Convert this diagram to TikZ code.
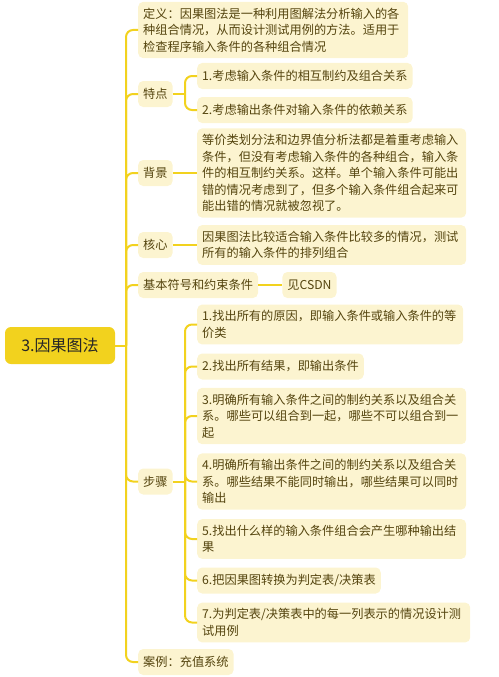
\documentclass[tikz,border=0pt]{standalone}
\usepackage{fontspec}
\setmainfont{Noto Sans CJK SC}
\usetikzlibrary{positioning}
\definecolor{gold}{HTML}{F2D21E}
\definecolor{cream}{HTML}{FCF4D0}
\definecolor{ink}{HTML}{54440E}

\begin{document}
\begin{tikzpicture}[x=1pt,y=-1pt,
 link/.style={gold, line width=2pt, rounded corners=7pt},
 topic/.style={fill=gold, rounded corners=6pt, text=black!85, minimum width=110pt, minimum height=37pt, font=\fontsize{16}{18}\selectfont},
 leaf/.style={fill=cream, rounded corners=5pt, text=ink, inner xsep=5pt, inner ysep=6pt, minimum height=26pt, anchor=west, align=left, font=\fontsize{12.2}{16.5}\selectfont}]
 \useasboundingbox (0,0) rectangle (498,677);
 \node [topic] (root) at (60,345.5) {3.因果图法};
 \coordinate (hub) at (126,345.5);
 \node [leaf, text width=260pt] (def) at (138,30) {定义：因果图法是一种利用图解法分析输入的各\\种组合情况，从而设计测试用例的方法。适用于\\检查程序输入条件的各种组合情况};
 \node [leaf] (feat) at (138,94) {特点};
 \node [leaf] (bg) at (138,173) {背景};
 \node [leaf] (core) at (138,245) {核心};
 \node [leaf] (sym) at (138,285) {基本符号和约束条件};
 \node [leaf] (steps) at (138,481.5) {步骤};
 \node [leaf] (case) at (138,662) {案例：充值系统};
 \coordinate (featj) at (185,94);
 \node [leaf] (feat1) at (197,76) {1.考虑输入条件的相互制约及组合关系};
 \node [leaf] (feat2) at (197,110) {2.考虑输出条件对输入条件的依赖关系};
 \node [leaf, text width=259pt] (bgtxt) at (197,173) {等价类划分法和边界值分析法都是着重考虑输入\\条件，但没有考虑输入条件的各种组合，输入条\\件的相互制约关系。这样。单个输入条件可能出\\错的情况考虑到了，但多个输入条件组合起来可\\能出错的情况就被忽视了。};
 \node [leaf, text width=259pt] (coretxt) at (197,245) {因果图法比较适合输入条件比较多的情况，测试\\所有的输入条件的排列组合};
 \node [leaf, right=24pt of sym] (symtxt) {见CSDN};
 \coordinate (stepj) at (185,481.5);
 \node [leaf, text width=256pt] (s1) at (197,324.5) {1.找出所有的原因，即输入条件或输入条件的等\\价类};
 \node [leaf] (s2) at (197,366.5) {2.找出所有结果，即输出条件};
 \node [leaf, text width=259pt] (s3) at (197,416) {3.明确所有输入条件之间的制约关系以及组合关\\系。哪些可以组合到一起，哪些不可以组合到一\\起};
 \node [leaf, text width=259pt] (s4) at (197,481.5) {4.明确所有输出条件之间的制约关系以及组合关\\系。哪些结果不能同时输出，哪些结果可以同时\\输出};
 \node [leaf, text width=259pt] (s5) at (197,539) {5.找出什么样的输入条件组合会产生哪种输出结\\果};
 \node [leaf] (s6) at (197,580.5) {6.把因果图转换为判定表/决策表};
 \node [leaf, text width=263pt] (s7) at (197,622.5) {7.为判定表/决策表中的每一列表示的情况设计测\\试用例};
 \draw [link] (root) -- (hub);
 \foreach \t in {def,feat,bg,core,sym,steps,case}
  \draw [link] (hub) |- (\t);
 \draw [link] (feat) -- (featj);
 \foreach \t in {feat1,feat2}
  \draw [link] (featj) |- (\t);
 \draw [link] (bg) -- (bgtxt);
 \draw [link] (core) -- (coretxt);
 \draw [link] (sym) -- (symtxt);
 \draw [link] (steps) -- (stepj);
 \foreach \t in {s1,s2,s3,s4,s5,s6,s7}
  \draw [link] (stepj) |- (\t);
\end{tikzpicture}
\end{document}
